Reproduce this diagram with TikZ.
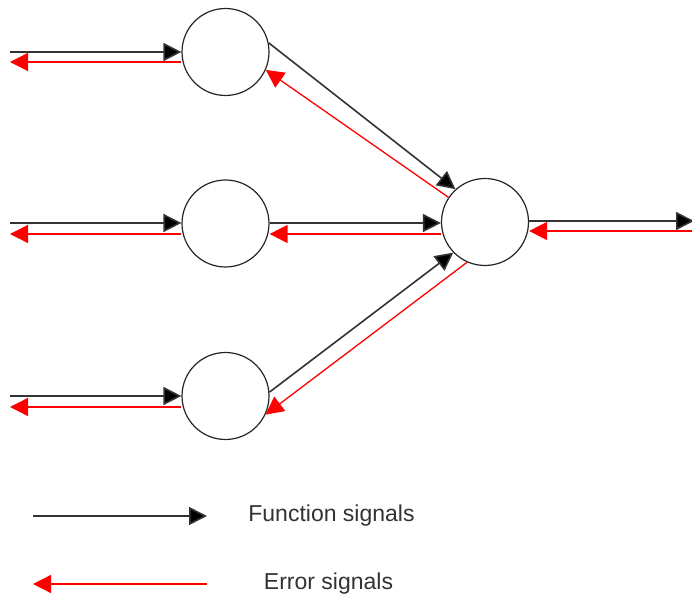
\documentclass[tikz,border=0pt]{standalone}
\usepackage{fontspec}
\setmainfont{Liberation Sans}
\usetikzlibrary{arrows.meta}
\begin{document}
\begin{tikzpicture}[x=1pt,y=1pt,
  neuron/.style={circle,draw=black!85,line width=1.2pt,minimum size=87pt,inner sep=0pt,fill=white},
  fun/.style={draw=black!80,line width=1.6pt,-{Triangle[length=18pt,width=18pt,fill=black]}},
  err/.style={draw=red,line width=1.3pt,-{Triangle[length=18pt,width=18pt,fill=red]}},
  lbl/.style={text=black!80,font=\fontsize{23}{28}\selectfont,inner sep=0pt}]
\useasboundingbox (0,0) rectangle (692,596);
\begin{scope}
\clip (0,0) rectangle (692,596);
\node[neuron] (A) at (225.5,544) {};
\node[neuron] (B) at (225.5,372.5) {};
\node[neuron] (C) at (225.5,200) {};
\node[neuron] (R) at (485,374) {};
% free ends on the left
\coordinate (a1) at (10,544);
\coordinate (a2) at (10,534);
\coordinate (b1) at (10,373);
\coordinate (b2) at (10,362);
\coordinate (c1) at (10,200);
\coordinate (c2) at (10,189);
% free ends on the right
\coordinate (r1) at (694,375);
\coordinate (r2) at (694,365);
% inputs
\draw[fun] (a1) -- (a1 -| A.west);
\draw[err] (a2 -| A.west) -- (a2);
\draw[fun] (b1) -- (b1 -| B.west);
\draw[err] (b2 -| B.west) -- (b2);
\draw[fun] (c1) -- (c1 -| C.west);
\draw[err] (c2 -| C.west) -- (c2);
% hidden to output
\draw[fun] (A.12.6) -- (R.132);
\draw[err] (R.146.5) -- (A.-24);
\draw[fun] (B.east |- b1) -- (R.west |- b1);
\draw[err] (R.west |- b2) -- (B.east |- b2);
\draw[fun] (C.5) -- (R.224);
\draw[err] (R.246) -- (C.-25.7);
% output
\draw[fun] (R.east |- r1) -- (r1);
\draw[err] (r2) -- (R.east |- r2);
\end{scope}
% legend
\coordinate (l1) at (33,80);
\coordinate (l2) at (207,80);
\coordinate (l3) at (207,12);
\coordinate (l4) at (33,12);
\draw[fun] (l1) -- (l2);
\draw[err] (l3) -- (l4);
\node[lbl] (tf) at (331.5,80) {Function signals};
\node[lbl] (te) at (328.5,12) {Error signals};
\end{tikzpicture}
\end{document}
